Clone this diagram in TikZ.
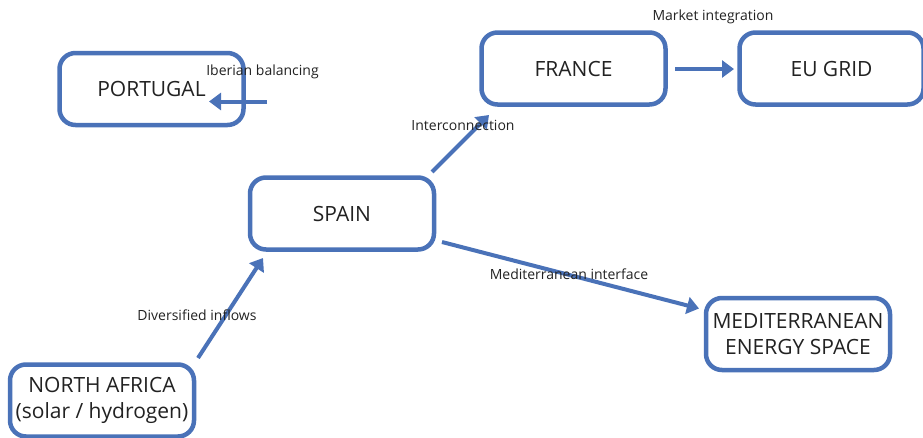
\documentclass[tikz,border=0pt]{standalone}
\usepackage{fontspec}
\setmainfont{Open Sans}
\usetikzlibrary{arrows.meta}
\definecolor{boxblue}{HTML}{4A72B8}
\definecolor{txt}{HTML}{222222}
\begin{document}
\begin{tikzpicture}[x=1pt,y=-1pt,
  region/.style={draw=boxblue, line width=4.5pt, rounded corners=16pt,
    minimum width=184pt, minimum height=72pt, align=center, text=txt,
    font=\fontsize{21}{26}\selectfont, fill=white, inner sep=2pt},
  flow/.style={draw=boxblue, line width=4pt, -{Triangle[length=12pt,width=17pt]}},
  lbl/.style={text=txt, font=\fontsize{14}{16}\selectfont, inner sep=0pt}]
\useasboundingbox (0,0) rectangle (923,437);
\node[region] (portugal) at (151.5,89) {PORTUGAL};
\node[region] (france) at (573.5,68.5) {FRANCE};
\node[region] (eugrid) at (831.5,68.5) {EU GRID};
\node[region] (spain) at (342,213.5) {SPAIN};
\node[region] (med) at (798,334) {MEDITERRANEAN\\ENERGY SPACE};
\node[region] (nafrica) at (102,400.5) {NORTH AFRICA\\(solar / hydrogen)};
% connector end points
\coordinate (ibS) at (267,101.5);
\coordinate (ibE) at (209,101.5);
\coordinate (feS) at (675,69);
\coordinate (feE) at (734,69);
\coordinate (sfS) at (432,172);
\coordinate (sfE) at (489,115);
\coordinate (smS) at (442,242);
\coordinate (smE) at (699,308.5);
\coordinate (nsS) at (198,358);
\coordinate (nsE) at (263,258);
\draw[flow] (ibS) -- (ibE);
\draw[flow] (feS) -- (feE);
\draw[flow] (sfS) -- (sfE);
\draw[flow] (smS) -- (smE);
\draw[flow] (nsS) -- (nsE);
\node[lbl] (l1) at (262.5,72) {Iberian balancing};
\node[lbl] (l2) at (713,17) {Market integration};
\node[lbl] (l3) at (463,125) {Interconnection};
\node[lbl] (l4) at (569,274.5) {Mediterranean interface};
\node[lbl] (l5) at (197,315) {Diversified inflows};
\end{tikzpicture}
\end{document}
